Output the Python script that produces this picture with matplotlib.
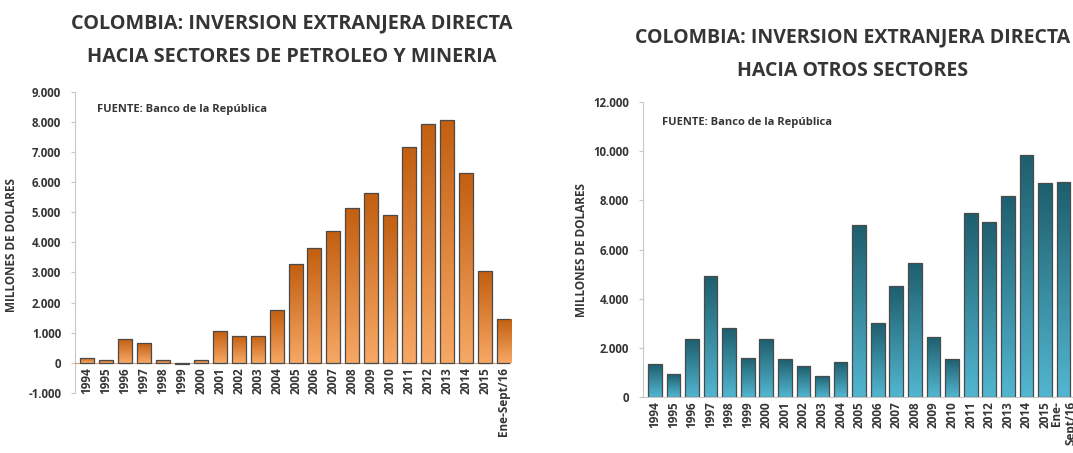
"""
Colombia FDI: oil & mining vs other sectors (two bar charts side by side).
Saves out.png
"""

import numpy as np
import matplotlib
matplotlib.use("Agg")
import matplotlib.pyplot as plt
import matplotlib.ticker as ticker
from matplotlib.colors import LinearSegmentedColormap


OUTPUT_PATH = "out.png"

years_left = ["1994", "1995", "1996", "1997", "1998", "1999", "2000", "2001",
              "2002", "2003", "2004", "2005", "2006", "2007", "2008", "2009",
              "2010", "2011", "2012", "2013", "2014", "2015", "Ene-Sept/16"]
petroleo_mineria = [170, 80, 800, 650, 80, -30, 100, 1050, 900, 900, 1750,
                    3280, 3800, 4390, 5140, 5640, 4920, 7180, 7920, 8060,
                    6300, 3050, 1450]

years_right = ["1994", "1995", "1996", "1997", "1998", "1999", "2000", "2001",
               "2002", "2003", "2004", "2005", "2006", "2007", "2008", "2009",
               "2010", "2011", "2012", "2013", "2014", "2015", "Ene-\nSept/16"]
otros_sectores = [1340, 930, 2350, 4920, 2800, 1590, 2360, 1540, 1260, 870,
                  1420, 6990, 3000, 4500, 5460, 2450, 1560, 7480, 7130, 8170,
                  9840, 8700, 8740]

TITLE_LEFT = "COLOMBIA: INVERSION EXTRANJERA DIRECTA\nHACIA SECTORES DE PETROLEO Y MINERIA"
TITLE_RIGHT = "COLOMBIA: INVERSION EXTRANJERA DIRECTA\nHACIA OTROS SECTORES"
FUENTE = "FUENTE: Banco de la República"
YLABEL = "MILLONES DE DOLARES"

FONT = ["Open Sans", "DejaVu Sans"]
TEXT_COLOR = "#353535"


def thousands(x, pos):
    # spanish style: 9.000
    return f"{int(x):,}".replace(",", ".")


def gradient_bars(ax, x, values, top_color, bottom_color):
    bars = ax.bar(x, values, width=0.74, color="none",
                  edgecolor="#4a4a4a", linewidth=0.9, zorder=3)
    cmap = LinearSegmentedColormap.from_list("g", [bottom_color, top_color])
    grad = np.linspace(0, 1, 64).reshape(-1, 1)
    for b in bars:
        x0, y0 = b.get_x(), b.get_y()
        w, h = b.get_width(), b.get_height()
        lo, hi = min(y0, y0 + h), max(y0, y0 + h)
        im = ax.imshow(grad, cmap=cmap, origin="lower", aspect="auto",
                       extent=(x0, x0 + w, lo, hi), zorder=2)
        im.set_clip_path(b)
    return bars


def style_axis(ax, labels, ymin, ymax, step, xlim, base_color):
    # spine position first: it resets the tick labels
    ax.spines["top"].set_visible(False)
    ax.spines["right"].set_visible(False)
    ax.spines["left"].set_color("#c8c8c8")
    ax.spines["bottom"].set_color(base_color)
    ax.spines["bottom"].set_position(("data", 0))

    ax.set_xlim(*xlim)
    ax.set_ylim(ymin, ymax)
    ax.set_xticks(range(len(labels)))
    ax.set_xticklabels(labels, rotation=90, fontsize=8.5, fontweight="bold",
                       color=TEXT_COLOR, family=FONT, ha="center", va="top",
                       multialignment="right")
    yt = np.arange(ymin, ymax + step, step)
    ax.set_yticks(yt)
    ax.set_yticklabels([thousands(v, None) for v in yt],
                       fontsize=8.3, fontweight="bold", color=TEXT_COLOR,
                       family=FONT)
    ax.set_ylim(ymin, ymax)
    ax.tick_params(axis="y", length=3, color="#c8c8c8", pad=7)
    ax.tick_params(axis="x", length=0, pad=3)
    ax.set_facecolor("none")


def main():
    fig = plt.figure(figsize=(10.73, 4.53), dpi=100)

    # --- left: petroleo y mineria ---
    ax1 = fig.add_axes([0.070, 0.1325, 0.405, 0.665])
    x1 = np.arange(len(years_left))
    gradient_bars(ax1, x1, petroleo_mineria, "#c35f10", "#f7a865")
    style_axis(ax1, years_left, -1000, 9000, 1000, (-0.63, 22.3), "#d9a07a")
    ax1.set_ylabel(YLABEL, fontsize=8.5, fontweight="bold", color=TEXT_COLOR,
                   family=FONT)
    ax1.yaxis.set_label_coords(-0.131, 0.49)
    ax1.text(0.05, 0.94, FUENTE, transform=ax1.transAxes, fontsize=8,
             fontweight="bold", color=TEXT_COLOR, family=FONT, va="center")
    fig.text(0.272, 0.911, TITLE_LEFT, ha="center", va="center",
             fontsize=14.3, fontweight="bold", color=TEXT_COLOR, family=FONT,
             linespacing=1.9)

    # --- right: otros sectores ---
    ax2 = fig.add_axes([0.599, 0.1236, 0.40, 0.651])
    x2 = np.arange(len(years_right))
    gradient_bars(ax2, x2, otros_sectores, "#1e5f6e", "#52b6d0")
    style_axis(ax2, years_right, 0, 12000, 2000, (-0.65, 22.45), "#c8c8c8")
    ax2.set_ylabel(YLABEL, fontsize=8.5, fontweight="bold", color=TEXT_COLOR,
                   family=FONT)
    ax2.yaxis.set_label_coords(-0.128, 0.5)
    ax2.text(0.045, 0.93, FUENTE, transform=ax2.transAxes, fontsize=8,
             fontweight="bold", color=TEXT_COLOR, family=FONT, va="center")
    fig.text(0.795, 0.880, TITLE_RIGHT, ha="center", va="center",
             fontsize=14, fontweight="bold", color=TEXT_COLOR, family=FONT,
             linespacing=1.9)

    fig.savefig(OUTPUT_PATH, dpi=100)
    plt.close(fig)


if __name__ == "__main__":
    main()
